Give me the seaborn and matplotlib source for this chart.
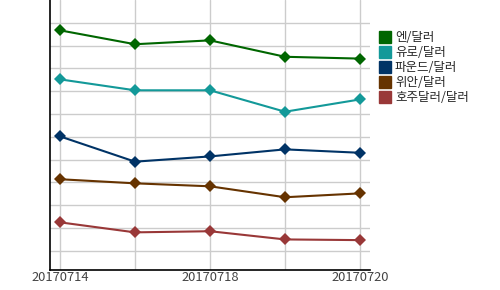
import matplotlib
matplotlib.use('Agg')
import matplotlib.pyplot as plt
import seaborn as sns
import pandas as pd
from matplotlib.lines import Line2D

# Data (no y scale shown, so values are in grid units)
dates = ['20170714', '20170717', '20170718', '20170719', '20170720']
series_names = ['엔/달러', '유로/달러', '파운드/달러', '위안/달러', '호주달러/달러']
yen = [10.67, 10.06, 10.23, 9.51, 9.43]
euro = [8.52, 8.04, 8.04, 7.10, 7.64]
pound = [6.02, 4.91, 5.14, 5.45, 5.30]
yuan = [4.14, 3.96, 3.83, 3.35, 3.52]
aud = [2.25, 1.81, 1.86, 1.50, 1.47]
colors = ['#006600', '#139999', '#003366', '#663300', '#993838']

sns.set_style('white')
plt.rcParams['font.family'] = ['Noto Sans CJK KR', 'DejaVu Sans']

rows = []
for name, vals in zip(series_names, [yen, euro, pound, yuan, aud]):
    for i, (d, v) in enumerate(zip(dates, vals)):
        rows.append({'idx': i, 'date': d, 'series': name, 'value': v})
df = pd.DataFrame(rows)

fig = plt.figure(figsize=(5, 2.9), dpi=100)
ax = fig.add_axes([0.1, 0.069, 0.64, 0.931])

sns.lineplot(data=df, x='idx', y='value', hue='series', hue_order=series_names,
             palette=colors, marker='D', markersize=6, markeredgewidth=0,
             linewidth=1.5, ax=ax, legend=False, zorder=3)

ax.set_xlim(-0.133, 4.133)
ax.set_ylim(0.16, 12)
ax.set_xticks(range(len(dates)))
ax.set_xticklabels([d if i % 2 == 0 else '' for i, d in enumerate(dates)])
ax.set_yticks(range(1, 12))
ax.set_yticklabels([])
ax.grid(True, color='#cccccc', linewidth=1)
ax.tick_params(axis='both', length=0, pad=1, labelsize=9.3, labelcolor='#444444')
ax.set_xlabel('')
ax.set_ylabel('')
for s in ['top', 'right']:
    ax.spines[s].set_visible(False)
for s in ['left', 'bottom']:
    ax.spines[s].set_color('black')
    ax.spines[s].set_linewidth(1.2)

handles = [Line2D([], [], marker='s', linestyle='', color=c, markersize=8)
           for c in colors]
fig.legend(handles, series_names, loc='upper left', bbox_to_anchor=(0.75, 0.91),
           frameon=False, fontsize=9, handlelength=0.8, handletextpad=0.4,
           labelspacing=0.16, borderaxespad=0)

fig.savefig('out.png', dpi=100)
